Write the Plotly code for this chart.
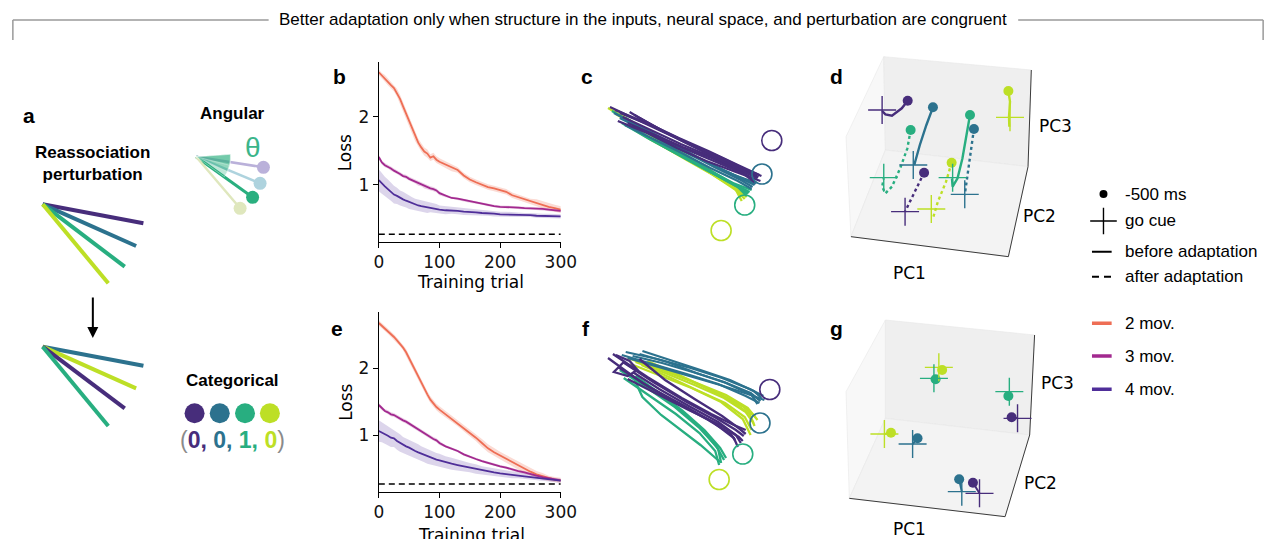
import plotly.graph_objects as go

W, H = 1287, 539


def px(x):
    return x / W


def py(y):
    return 1 - y / H


SANS = "Liberation Sans"
MPL = "DejaVu Sans"

PURPLE, TEAL, GREEN, YELLOW = "#472d7b", "#2c728e", "#28ae80", "#bddf26"
MOV2, MOV3, MOV4 = "#ee6e55", "#a2298f", "#4f2e99"

# ---------------- panels b / e : loss vs training trial ----------------
trials = [0, 5, 10, 15, 20, 25, 30, 35, 40, 45, 50, 55, 60, 65, 70, 75, 80, 85, 90, 95, 100,
          110, 120, 130, 140, 150, 160, 170, 180, 190, 200, 210, 220, 230, 240, 250, 260, 270, 280, 290, 300]

b_loss_2mov = [2.65, 2.60, 2.56, 2.51, 2.46, 2.42, 2.35, 2.26, 2.15, 2.04, 1.93, 1.82, 1.71, 1.62, 1.55, 1.49, 1.46, 1.40, 1.42, 1.37, 1.34,
               1.30, 1.25, 1.22, 1.14, 1.08, 1.04, 1.00, 0.97, 0.95, 0.93, 0.90, 0.85, 0.82, 0.79, 0.76, 0.74, 0.71, 0.68, 0.66, 0.64]
b_loss_3mov = [1.41, 1.33, 1.29, 1.27, 1.24, 1.21, 1.19, 1.16, 1.13, 1.12, 1.09, 1.07, 1.05, 1.02, 1.01, 0.98, 0.97, 0.95, 0.94, 0.92, 0.88,
               0.84, 0.81, 0.80, 0.78, 0.76, 0.74, 0.73, 0.71, 0.69, 0.68, 0.68, 0.67, 0.67, 0.66, 0.66, 0.65, 0.65, 0.64, 0.63, 0.62]
b_loss_4mov = [1.07, 1.02, 0.98, 0.94, 0.90, 0.86, 0.84, 0.81, 0.79, 0.77, 0.75, 0.73, 0.71, 0.70, 0.69, 0.68, 0.67, 0.67, 0.66, 0.65, 0.64,
               0.63, 0.63, 0.62, 0.61, 0.61, 0.60, 0.59, 0.59, 0.58, 0.57, 0.57, 0.57, 0.56, 0.56, 0.56, 0.55, 0.55, 0.55, 0.54, 0.54]
b_sd_2mov = [0.04, 0.04, 0.05, 0.05, 0.05, 0.05, 0.06, 0.06, 0.06, 0.07, 0.07, 0.07, 0.07, 0.06, 0.06, 0.06, 0.06, 0.05, 0.05, 0.05, 0.05,
             0.05, 0.05, 0.04, 0.04, 0.04, 0.04, 0.04, 0.04, 0.04, 0.04, 0.04, 0.04, 0.04, 0.04, 0.04, 0.05, 0.05, 0.05, 0.05, 0.05]
b_sd_3mov = [0.03, 0.03, 0.03, 0.03, 0.03, 0.03, 0.03, 0.03, 0.03, 0.03, 0.03, 0.03, 0.03, 0.03, 0.03, 0.03, 0.03, 0.03, 0.03, 0.03, 0.03,
             0.02, 0.02, 0.02, 0.02, 0.02, 0.02, 0.02, 0.02, 0.02, 0.02, 0.02, 0.02, 0.02, 0.02, 0.02, 0.02, 0.02, 0.02, 0.02, 0.02]
b_sd_4mov = [0.16, 0.15, 0.14, 0.14, 0.13, 0.13, 0.12, 0.11, 0.11, 0.10, 0.10, 0.09, 0.09, 0.09, 0.08, 0.08, 0.08, 0.07, 0.07, 0.07, 0.06,
             0.06, 0.05, 0.05, 0.05, 0.05, 0.04, 0.04, 0.04, 0.04, 0.04, 0.04, 0.03, 0.03, 0.03, 0.03, 0.03, 0.03, 0.03, 0.03, 0.03]

e_loss_2mov = [2.68, 2.64, 2.60, 2.56, 2.52, 2.47, 2.42, 2.37, 2.31, 2.24, 2.15, 2.05, 1.96, 1.86, 1.78, 1.70, 1.61, 1.53, 1.47, 1.42, 1.38,
               1.31, 1.25, 1.18, 1.11, 1.03, 0.96, 0.88, 0.80, 0.74, 0.69, 0.64, 0.59, 0.54, 0.49, 0.45, 0.41, 0.38, 0.35, 0.33, 0.32]
e_loss_3mov = [1.45, 1.40, 1.36, 1.34, 1.31, 1.30, 1.27, 1.25, 1.22, 1.20, 1.17, 1.14, 1.11, 1.09, 1.06, 1.03, 1.00, 0.97, 0.94, 0.92, 0.88,
               0.83, 0.80, 0.76, 0.71, 0.67, 0.64, 0.61, 0.58, 0.55, 0.53, 0.51, 0.48, 0.46, 0.44, 0.41, 0.39, 0.37, 0.35, 0.33, 0.32]
e_loss_4mov = [1.06, 1.04, 1.02, 0.99, 0.96, 0.95, 0.91, 0.88, 0.85, 0.83, 0.81, 0.78, 0.76, 0.74, 0.72, 0.70, 0.68, 0.66, 0.64, 0.63, 0.62,
               0.59, 0.57, 0.55, 0.53, 0.51, 0.49, 0.47, 0.455, 0.44, 0.425, 0.41, 0.40, 0.39, 0.38, 0.37, 0.36, 0.345, 0.335, 0.325, 0.315]
e_sd_2mov = [0.04, 0.04, 0.04, 0.04, 0.04, 0.04, 0.04, 0.04, 0.04, 0.05, 0.05, 0.05, 0.05, 0.05, 0.05, 0.05, 0.05, 0.05, 0.05, 0.05, 0.05,
             0.05, 0.05, 0.05, 0.05, 0.05, 0.05, 0.06, 0.06, 0.06, 0.06, 0.06, 0.06, 0.06, 0.06, 0.06, 0.05, 0.05, 0.04, 0.04, 0.04]
e_sd_3mov = [0.03, 0.03, 0.03, 0.03, 0.03, 0.03, 0.03, 0.03, 0.03, 0.03, 0.03, 0.03, 0.03, 0.03, 0.03, 0.03, 0.03, 0.03, 0.03, 0.03, 0.03,
             0.02, 0.02, 0.02, 0.02, 0.02, 0.02, 0.02, 0.02, 0.02, 0.02, 0.02, 0.02, 0.02, 0.02, 0.02, 0.02, 0.02, 0.02, 0.02, 0.02]
e_sd_4mov = [0.16, 0.15, 0.15, 0.14, 0.14, 0.13, 0.13, 0.13, 0.12, 0.12, 0.12, 0.12, 0.12, 0.12, 0.11, 0.11, 0.11, 0.10, 0.10, 0.10, 0.10,
             0.09, 0.09, 0.08, 0.08, 0.07, 0.07, 0.06, 0.06, 0.06, 0.05, 0.05, 0.05, 0.04, 0.04, 0.04, 0.04, 0.03, 0.03, 0.03, 0.03]

baseline_trials = [0, 300]
b_baseline = [0.28, 0.28]
e_baseline = [0.265, 0.265]

mov_labels = ["2 mov.", "3 mov.", "4 mov."]
mov_colors = [MOV2, MOV3, MOV4]
mov_bands = ["rgba(238,110,85,0.25)", "rgba(162,41,143,0.22)", "rgba(79,46,153,0.20)"]

# ---------------- panels c / f : hand trajectories ----------------
targets_x = [15.45, 14.45, 12.7, 10.3]
targets_y = [-2.55, -5.9, -9.0, -11.55]
target_colors = [PURPLE, TEAL, GREEN, YELLOW]

c_purple_x = [[-0.5, 3.0, 6.0, 9.0, 12.0, 14.2], [0.3, 3.2, 6.2, 9.1, 12.1, 14.0], [1.0, 3.5, 6.5, 9.5, 12.3, 13.8],
              [-0.2, 2.8, 5.8, 8.8, 11.8, 14.3], [0.8, 3.6, 6.4, 9.3, 12.2, 13.6], [1.5, 4.0, 7.0, 10.0, 12.8, 14.1],
              [-1.0, 2.5, 5.5, 8.6, 11.6, 14.0], [2.0, 4.6, 7.4, 10.2, 12.9, 13.9], [0.0, 3.3, 6.6, 9.6, 12.4, 14.4],
              [1.2, 3.9, 6.9, 9.8, 12.6, 13.7]]
c_purple_y = [[0.5, -0.9, -2.3, -3.6, -5.0, -6.0], [-0.2, -1.5, -2.9, -4.1, -5.4, -6.3], [0.3, -1.2, -2.6, -4.0, -5.3, -6.1],
              [-0.6, -1.8, -3.3, -4.6, -5.7, -6.6], [-0.8, -2.0, -3.2, -4.3, -5.6, -6.4], [0.0, -1.4, -2.9, -4.4, -5.6, -6.2],
              [0.8, -0.8, -2.2, -3.7, -5.1, -6.3], [-0.3, -1.7, -3.0, -4.2, -5.5, -5.9], [0.2, -1.1, -2.7, -4.0, -5.3, -6.1],
              [-1.1, -2.2, -3.5, -4.7, -5.9, -6.7]]
c_teal_x = [[0.0, 3.0, 6.0, 9.0, 12.0, 13.7], [1.0, 3.8, 6.8, 9.6, 12.3, 13.5], [-0.6, 2.6, 5.6, 8.6, 11.6, 13.9],
            [0.5, 3.4, 6.3, 9.2, 12.0, 13.4], [2.0, 4.4, 7.2, 10.0, 12.6, 13.8]]
c_teal_y = [[-0.3, -1.8, -3.3, -4.8, -6.2, -7.0], [-0.7, -2.2, -3.7, -5.2, -6.5, -7.2], [0.2, -1.4, -3.0, -4.6, -6.0, -6.8],
            [-1.0, -2.4, -3.8, -5.3, -6.6, -7.4], [-1.4, -2.6, -4.0, -5.3, -6.4, -6.9]]
c_green_x = [[0.2, 3.0, 6.0, 9.0, 11.8, 13.2], [1.2, 3.8, 6.6, 9.4, 12.0, 13.0], [-0.8, 2.5, 5.5, 8.5, 11.5, 13.4],
             [0.6, 3.3, 6.2, 9.1, 11.9, 12.9], [1.8, 4.2, 7.0, 9.8, 12.3, 13.1]]
c_green_y = [[-0.8, -2.4, -4.0, -5.6, -7.0, -7.7], [-1.2, -2.7, -4.3, -5.8, -7.2, -7.9], [0.4, -1.5, -3.4, -5.2, -6.8, -7.5],
             [-0.3, -2.0, -3.8, -5.5, -7.1, -8.1], [-1.6, -3.0, -4.5, -6.0, -7.3, -7.8]]
c_yellow_x = [[0.5, 3.2, 6.0, 8.8, 11.5, 12.7], [1.4, 4.0, 6.8, 9.5, 12.0, 12.9], [-0.4, 2.8, 5.7, 8.6, 11.3, 12.5],
              [0.9, 3.6, 6.4, 9.2, 11.8, 12.4], [-1.2, 2.2, 5.2, 8.2, 11.0, 12.6]]
c_yellow_y = [[-0.9, -2.5, -4.0, -5.5, -7.2, -8.4], [-1.3, -2.9, -4.5, -6.0, -7.5, -8.2], [0.1, -1.8, -3.6, -5.3, -7.0, -8.1],
              [-0.5, -2.3, -4.1, -5.8, -7.5, -8.6], [0.7, -1.2, -3.1, -4.9, -6.7, -8.0]]

f_teal_x = [[0.8, 4.0, 7.4, 10.6, 13.4, 14.8], [1.5, 4.5, 7.6, 10.8, 13.5, 14.5], [2.2, 5.0, 8.0, 11.0, 13.6, 14.2],
            [1.0, 4.2, 7.3, 10.4, 13.2, 14.9], [2.5, 5.4, 8.4, 11.4, 13.8, 14.6], [0.4, 3.6, 7.0, 10.2, 13.0, 14.4]]
f_teal_y = [[1.2, 0.5, -0.4, -1.4, -2.5, -3.2], [0.8, 0.1, -0.8, -1.8, -2.9, -3.7], [1.0, 0.2, -0.9, -1.9, -3.1, -4.0],
            [0.6, -0.3, -1.2, -2.1, -3.0, -3.6], [1.3, 0.4, -0.6, -1.6, -2.7, -3.4], [0.9, 0.0, -1.0, -2.0, -3.2, -3.9]]
f_yellow_x = [[1.0, 4.2, 7.4, 10.4, 12.8, 14.0], [1.8, 4.8, 7.8, 10.8, 13.0, 13.8], [2.4, 5.2, 8.0, 10.9, 12.9, 13.6],
              [1.3, 4.4, 7.5, 10.5, 12.7, 13.5], [2.0, 5.0, 8.0, 11.0, 13.2, 14.2], [3.0, 5.8, 8.6, 11.4, 13.4, 13.9]]
f_yellow_y = [[0.6, -0.5, -1.7, -3.0, -4.3, -5.3], [0.2, -0.9, -2.1, -3.4, -4.8, -5.9], [-0.1, -1.3, -2.6, -3.9, -5.3, -6.6],
              [0.0, -1.2, -2.4, -3.8, -5.5, -7.1], [0.4, -0.7, -1.9, -3.1, -4.4, -5.6], [0.3, -0.9, -2.2, -3.6, -5.0, -6.2]]
f_purple_x = [[-0.5, 3.0, 6.5, 9.5, 11.8, 13.0], [0.5, 3.6, 7.0, 10.0, 12.0, 12.8], [1.5, 4.2, 7.4, 10.2, 12.0, 12.5],
              [0.0, 3.2, 6.8, 9.8, 11.8, 12.2], [2.2, 4.8, 7.8, 10.6, 12.4, 13.0], [-1.0, 2.5, 6.0, 9.2, 11.5, 11.9],
              [1.0, 3.8, 7.2, 10.4, 12.3, 12.7], [-0.2, 1.2, 2.0, 1.0, -0.4, 0.6]]
f_purple_y = [[1.0, -1.3, -3.4, -5.0, -6.1, -6.6], [0.2, -1.8, -3.8, -5.4, -6.6, -7.2], [-0.8, -2.5, -4.3, -5.8, -7.1, -7.9],
              [-0.3, -2.3, -4.2, -5.9, -7.4, -8.3], [0.5, -1.6, -3.5, -5.2, -6.5, -7.0], [0.6, -1.9, -3.9, -5.6, -7.0, -7.6],
              [-1.5, -2.9, -4.6, -6.1, -7.3, -7.7], [0.9, 0.3, -0.6, -1.2, -0.8, 0.2]]
f_green_x = [[0.2, 3.0, 5.8, 8.2, 10.0, 10.8], [1.0, 3.6, 6.2, 8.5, 10.2, 10.5], [1.8, 4.2, 6.6, 8.8, 10.4, 11.0],
             [0.6, 3.2, 5.9, 8.3, 9.9, 10.3], [1.7, 2.5, 4.4, 6.4, 8.4, 10.4]]
f_green_y = [[-0.6, -2.4, -4.3, -6.3, -8.2, -9.6], [-0.9, -2.6, -4.5, -6.5, -8.5, -9.9], [-1.2, -2.9, -4.7, -6.6, -8.4, -9.4],
             [-1.4, -3.2, -5.0, -6.9, -8.7, -10.1], [-1.6, -3.3, -5.1, -6.6, -8.1, -9.8]]

# ---------------- panels d / g : 3-D PC views (projected view coordinates) ----------------
d_pane_left_x, d_pane_left_y = [75, 190, 195, 90], [245, 5, 285, 545]
d_pane_back_x, d_pane_back_y = [190, 640, 630, 195], [5, 45, 335, 285]
d_pane_floor_x, d_pane_floor_y = [195, 630, 570, 90], [285, 335, 605, 545]
d_edge_x, d_edge_y = [90, 570, 630, 640], [545, 605, 335, 45]

d_traj_x = [[263, 245, 215, 195, 185], [340, 320, 300, 283], [272, 262, 240, 215, 195, 185, 190],
            [313, 290, 265, 255], [453, 445, 430, 415, 400, 398], [465, 455, 445, 437],
            [397, 380, 355, 340], [570, 575, 572, 573]]
d_traj_y = [[137, 160, 182, 178, 168], [157, 210, 270, 330], [225, 280, 340, 395, 415, 395, 370],
            [353, 400, 450, 470], [180, 230, 310, 370, 395, 370], [222, 290, 360, 420],
            [323, 380, 440, 490], [108, 140, 185, 215]]
d_traj_color = [PURPLE, TEAL, GREEN, PURPLE, GREEN, TEAL, YELLOW, YELLOW]
d_traj_dash = ["solid", "solid", "dot", "dot", "solid", "dot", "dot", "solid"]
d_cross_x = [185, 280, 190, 255, 400, 437, 335, 575]
d_cross_y = [165, 330, 368, 470, 368, 418, 462, 187]

g_pane_left_x, g_pane_left_y = [75, 195, 195, 85], [245, 30, 325, 565]
g_pane_back_x, g_pane_back_y = [195, 650, 635, 195], [30, 75, 375, 325]
g_pane_floor_x, g_pane_floor_y = [195, 635, 560, 85], [325, 375, 620, 565]
g_edge_x, g_edge_y = [85, 560, 635, 650], [565, 620, 375, 75]

g_dot_x = [368, 348, 570, 580, 212, 293, 420, 462]
g_dot_y = [180, 208, 258, 322, 368, 385, 508, 518]
g_cross_x = [358, 343, 573, 598, 192, 278, 428, 482]
g_cross_y = [172, 205, 245, 325, 372, 402, 545, 550]
g_color = [YELLOW, GREEN, GREEN, PURPLE, YELLOW, TEAL, TEAL, PURPLE]

# ---------------- panel a : schematic ----------------
reassoc_origin_x = 38.3
reassoc_origin_y_top, reassoc_origin_y_bottom = 204.3, 346.7
reassoc_end_x = [140.7, 133.3, 121.7, 105.0]
reassoc_end_y_top = [223.3, 246.0, 266.7, 283.3]
reassoc_end_y_bottom = [365.7, 388.3, 408.3, 426.0]
reassoc_colors_top = [PURPLE, TEAL, GREEN, YELLOW]
reassoc_colors_bottom = [TEAL, YELLOW, PURPLE, GREEN]

ang_origin = (194.3, 156.7)
ang_end_x = [262.7, 259.3, 251.7, 239.0]
ang_end_y = [167.3, 183.3, 197.3, 208.3]
ang_colors = ["#bab1da", "#aed3de", "#2aaf7f", "#dfe7bd"]
ang_widths = [2.5, 2.5, 3, 2.5]

cat_x = [192.7, 218.3, 244.0, 269.3]
cat_y = [413.3, 413.3, 413.3, 413.3]
cat_colors = [PURPLE, TEAL, GREEN, YELLOW]
cat_code = ["0", "0", "1", "0"]

# ---------------- key (legend) ----------------
key_labels = ["-500 ms", "go cue", "before adaptation", "after adaptation"] + mov_labels
key_rows = [194, 221, 251.7, 276.7, 323.3, 356, 389.3]

fig = go.Figure()


def joined(xs, ys):
    X, Y = [], []
    for a, b in zip(xs, ys):
        X += list(a) + [None]
        Y += list(b) + [None]
    return X, Y


# ---- b / e
for ax, losses, sds, base in [("", [b_loss_2mov, b_loss_3mov, b_loss_4mov], [b_sd_2mov, b_sd_3mov, b_sd_4mov], b_baseline),
                              ("2", [e_loss_2mov, e_loss_3mov, e_loss_4mov], [e_sd_2mov, e_sd_3mov, e_sd_4mov], e_baseline)]:
    xa, ya = "x" + ax, "y" + ax
    for loss, sd, band in zip(losses, sds, mov_bands):
        up = [m + s for m, s in zip(loss, sd)]
        lo = [m - s for m, s in zip(loss, sd)]
        fig.add_trace(go.Scatter(x=trials + trials[::-1], y=up + lo[::-1], fill="toself", fillcolor=band,
                                 line=dict(width=0), mode="lines", showlegend=False, hoverinfo="skip",
                                 xaxis=xa, yaxis=ya))
    for loss, col, lab in zip(losses, mov_colors, mov_labels):
        fig.add_trace(go.Scatter(x=trials, y=loss, mode="lines", name=lab, line=dict(color=col, width=1.8),
                                 showlegend=False, xaxis=xa, yaxis=ya))
    fig.add_trace(go.Scatter(x=baseline_trials, y=base, mode="lines",
                             line=dict(color="black", width=1.6, dash="6px,4px"),
                             showlegend=False, xaxis=xa, yaxis=ya))

# ---- c / f
for ax, groups in [("3", [(c_yellow_x, c_yellow_y, YELLOW), (c_green_x, c_green_y, GREEN),
                          (c_teal_x, c_teal_y, TEAL), (c_purple_x, c_purple_y, PURPLE)]),
                   ("4", [(f_green_x, f_green_y, GREEN), (f_yellow_x, f_yellow_y, YELLOW),
                          (f_teal_x, f_teal_y, TEAL), (f_purple_x, f_purple_y, PURPLE)])]:
    for xs, ys, col in groups:
        X, Y = joined(xs, ys)
        fig.add_trace(go.Scatter(x=X, y=Y, mode="lines", line=dict(color=col, width=2.3),
                                 showlegend=False, xaxis="x" + ax, yaxis="y" + ax))
    fig.add_trace(go.Scatter(x=targets_x, y=targets_y, mode="markers",
                             marker=dict(symbol="circle-open", size=20, color=target_colors, line=dict(width=1.6)),
                             showlegend=False, xaxis="x" + ax, yaxis="y" + ax))

# ---- d / g panes
for ax, panes, edge in [("5", [(d_pane_left_x, d_pane_left_y, "#f8f8f8"), (d_pane_back_x, d_pane_back_y, "#efefef"),
                               (d_pane_floor_x, d_pane_floor_y, "#f3f3f3")], (d_edge_x, d_edge_y)),
                        ("6", [(g_pane_left_x, g_pane_left_y, "#f8f8f8"), (g_pane_back_x, g_pane_back_y, "#efefef"),
                               (g_pane_floor_x, g_pane_floor_y, "#f3f3f3")], (g_edge_x, g_edge_y))]:
    for xs, ys, col in panes:
        fig.add_trace(go.Scatter(x=xs + xs[:1], y=ys + ys[:1], fill="toself", fillcolor=col, mode="lines",
                                 line=dict(width=0.6, color="#e8e8e8"), showlegend=False, hoverinfo="skip",
                                 xaxis="x" + ax, yaxis="y" + ax))
    fig.add_trace(go.Scatter(x=edge[0], y=edge[1], mode="lines", line=dict(color="#3a3a3a", width=1),
                             showlegend=False, hoverinfo="skip", xaxis="x" + ax, yaxis="y" + ax))

for xs, ys, col, dash in zip(d_traj_x, d_traj_y, d_traj_color, d_traj_dash):
    fig.add_trace(go.Scatter(x=xs, y=ys, mode="lines", line=dict(color=col, width=2.4, dash=dash),
                             showlegend=False, xaxis="x5", yaxis="y5"))
fig.add_trace(go.Scatter(x=[t[0] for t in d_traj_x], y=[t[0] for t in d_traj_y], mode="markers",
                         marker=dict(size=10, color=d_traj_color), showlegend=False, xaxis="x5", yaxis="y5"))
fig.add_trace(go.Scatter(x=d_cross_x, y=d_cross_y, mode="markers",
                         marker=dict(symbol="cross-thin", size=20, line=dict(width=1.4, color=d_traj_color)),
                         showlegend=False, xaxis="x5", yaxis="y5"))

for i, col in enumerate(g_color):
    fig.add_trace(go.Scatter(x=[g_dot_x[i], g_cross_x[i]], y=[g_dot_y[i], g_cross_y[i]], mode="lines",
                             line=dict(color=col, width=2), showlegend=False, xaxis="x6", yaxis="y6"))
fig.add_trace(go.Scatter(x=g_dot_x, y=g_dot_y, mode="markers", marker=dict(size=10, color=g_color),
                         showlegend=False, xaxis="x6", yaxis="y6"))
fig.add_trace(go.Scatter(x=g_cross_x, y=g_cross_y, mode="markers",
                         marker=dict(symbol="cross-thin", size=20, line=dict(width=1.4, color=g_color)),
                         showlegend=False, xaxis="x6", yaxis="y6"))

# ---- a : schematic
for ex, ey, col in zip(reassoc_end_x, reassoc_end_y_top, reassoc_colors_top):
    fig.add_trace(go.Scatter(x=[reassoc_origin_x, ex], y=[reassoc_origin_y_top, ey], mode="lines",
                             line=dict(color=col, width=4), showlegend=False, xaxis="x7", yaxis="y7"))
for ex, ey, col in zip(reassoc_end_x, reassoc_end_y_bottom, reassoc_colors_bottom):
    fig.add_trace(go.Scatter(x=[reassoc_origin_x, ex], y=[reassoc_origin_y_bottom, ey], mode="lines",
                             line=dict(color=col, width=4), showlegend=False, xaxis="x7", yaxis="y7"))
for ex, ey, col, wd in zip(ang_end_x, ang_end_y, ang_colors, ang_widths):
    fig.add_trace(go.Scatter(x=[ang_origin[0], ex], y=[ang_origin[1], ey], mode="lines",
                             line=dict(color=col, width=wd), showlegend=False, xaxis="x7", yaxis="y7"))
fig.add_trace(go.Scatter(x=ang_end_x, y=ang_end_y, mode="markers", marker=dict(size=13, color=ang_colors),
                         showlegend=False, xaxis="x7", yaxis="y7"))
fig.add_trace(go.Scatter(x=cat_x, y=cat_y, mode="markers", marker=dict(size=20, color=cat_colors),
                         showlegend=False, xaxis="x7", yaxis="y7"))

# ---- key symbols (drawn on their own small axis so nothing spills past the figure's edge)
KX0, KX1, KXM = 1105, 1125, 1116.7
fig.add_trace(go.Scatter(x=[KXM], y=[key_rows[0]], mode="markers", marker=dict(size=8, color="black"),
                         showlegend=False, xaxis="x8", yaxis="y8"))
fig.add_trace(go.Scatter(x=[KXM], y=[key_rows[1]], mode="markers",
                         marker=dict(symbol="cross-thin", size=19, line=dict(width=1.4, color="black")),
                         showlegend=False, xaxis="x8", yaxis="y8"))
fig.add_trace(go.Scatter(x=[KX0, KX1], y=[key_rows[2]] * 2, mode="lines", line=dict(color="black", width=2),
                         showlegend=False, xaxis="x8", yaxis="y8"))
fig.add_trace(go.Scatter(x=[KX0, KX1], y=[key_rows[3]] * 2, mode="lines",
                         line=dict(color="black", width=2, dash="7px,5px"),
                         showlegend=False, xaxis="x8", yaxis="y8"))
for row, col in zip(key_rows[4:], mov_colors):
    fig.add_trace(go.Scatter(x=[KX0, KX1], y=[row, row], mode="lines", line=dict(color=col, width=3.5),
                             showlegend=False, xaxis="x8", yaxis="y8"))

# ---- axes
hidden = dict(visible=False, showgrid=False, zeroline=False)
loss_x = dict(range=[0, 300], tickvals=[0, 100, 200, 300], showline=True, linecolor="black", linewidth=1,
              ticks="outside", ticklen=5, tickwidth=1, tickcolor="black", showgrid=False, zeroline=False,
              tickfont=dict(family=MPL, size=17, color="#111"))
loss_y = dict(tickvals=[1, 2], showline=True, linecolor="black", linewidth=1, ticks="outside", ticklen=5,
              tickwidth=1, tickcolor="black", showgrid=False, zeroline=False,
              tickfont=dict(family=MPL, size=17, color="#111"))

fig.update_layout(
    width=W, height=H, margin=dict(l=0, r=0, t=0, b=0), autosize=False, showlegend=False,
    paper_bgcolor="white", plot_bgcolor="rgba(0,0,0,0)",
    xaxis=dict(domain=[px(380), px(565)], anchor="y", **loss_x),
    yaxis=dict(domain=[py(241.7), py(62)], anchor="x", range=[0.17, 2.8], **loss_y),
    xaxis2=dict(domain=[px(380), px(565)], anchor="y2", **loss_x),
    yaxis2=dict(domain=[py(491.7), py(312.3)], anchor="x2", range=[0.15, 2.84], **loss_y),
    xaxis3=dict(domain=[px(600), px(800)], anchor="y3", range=[-2.5, 17.5], **hidden),
    yaxis3=dict(domain=[py(250), py(90)], anchor="x3", range=[-13.5, 2.5], **hidden),
    xaxis4=dict(domain=[px(600), px(800)], anchor="y4", range=[-2.3, 17.7], **hidden),
    yaxis4=dict(domain=[py(500), py(340)], anchor="x4", range=[-13.6, 2.4], **hidden),
    xaxis5=dict(domain=[px(830), px(1060)], anchor="y5", range=[0, 690], **hidden),
    yaxis5=dict(domain=[py(285), py(55)], anchor="x5", range=[690, 0], **hidden),
    xaxis6=dict(domain=[px(830), px(1060)], anchor="y6", range=[0, 690], **hidden),
    yaxis6=dict(domain=[py(539), py(310)], anchor="x6", range=[687, 0], **hidden),
    xaxis7=dict(domain=[0, px(320)], anchor="y7", range=[0, 320], **hidden),
    yaxis7=dict(domain=[0, py(55)], anchor="x7", range=[539, 55], **hidden),
    xaxis8=dict(domain=[px(1095), px(1135)], anchor="y8", range=[1095, 1135], **hidden),
    yaxis8=dict(domain=[py(410), py(175)], anchor="x8", range=[410, 175], **hidden),
)

# ---- shapes: title bracket, angular wedge
gray = "#9a9a9a"
shapes = [
    dict(type="line", xref="paper", yref="paper", x0=px(8), x1=px(268), y0=py(20), y1=py(20), line=dict(color=gray, width=1.5)),
    dict(type="line", xref="paper", yref="paper", x0=px(8), x1=px(8), y0=py(20), y1=py(40), line=dict(color=gray, width=1.5)),
    dict(type="line", xref="paper", yref="paper", x0=px(1030), x1=px(1279), y0=py(20), y1=py(20), line=dict(color=gray, width=1.5)),
    dict(type="line", xref="paper", yref="paper", x0=px(1279), x1=px(1279), y0=py(20), y1=py(40), line=dict(color=gray, width=1.5)),
]
ox, oy = ang_origin
for path in ["M %f,%f L 229.2,154.3 Q 230.1,166.6 223.0,176.8 Z" % (ox, oy),
             "M %f,%f L 229.2,154.3 Q 229.9,163.3 226.0,171.5 Z" % (ox, oy),
             "M %f,%f L 229.2,154.3 Q 229.6,159.8 228.3,165.2 Z" % (ox, oy)]:
    shapes.append(dict(type="path", xref="x7", yref="y7", path=path, fillcolor="rgba(42,175,127,0.3)",
                       line=dict(width=0.6, color="rgba(255,255,255,0.6)"), layer="above"))
fig.update_layout(shapes=shapes)

# ---- annotations
ann = []


def text(x, y, s, size=17, family=SANS, color="black", bold=False, **kw):
    ann.append(dict(x=px(x), y=py(y), xref="paper", yref="paper", text=("<b>%s</b>" % s) if bold else s,
                    showarrow=False, font=dict(family=family, size=size, color=color),
                    xanchor=kw.pop("xanchor", "center"), yanchor=kw.pop("yanchor", "middle"), **kw))


text(649, 20, "Better adaptation only when structure in the inputs, neural space, and perturbation are congruent", size=17)
for lab, x, y in [("a", 24, 116), ("b", 340, 76), ("c", 592, 76), ("d", 845, 76),
                  ("e", 338, 328), ("f", 591, 328), ("g", 845, 328)]:
    text(x, y, lab, size=21, bold=True)
text(89.3, 163, "Reassociation<br>perturbation", bold=True)
text(231, 113.3, "Angular", bold=True)
text(231, 380.7, "Categorical", bold=True)
text(252, 147, "θ", size=28, color="#3bb58a")
parts = ["<span style='color:%s'>%s%s</span>" % (c, d, "," if i < 3 else "") for i, (c, d) in enumerate(zip(cat_colors, cat_code))]
text(231, 440, "<span style='color:#8a8a8a'>(</span><b>" + " ".join(parts) + "</b><span style='color:#8a8a8a'>)</span>", size=23)
for yc in [153, 402.5]:
    text(346, yc, "Loss", size=17, family=MPL, textangle=-90)
text(473, 281.7, "Training trial", size=17, family=MPL)
text(474, 535, "Training trial", size=17, family=MPL)
for lab, x, y in [("PC1", 920, 273), ("PC2", 1052, 216), ("PC3", 1068, 126),
                  ("PC1", 920, 529), ("PC2", 1053, 483), ("PC3", 1070, 383)]:
    text(x, y, lab, size=17, family=MPL)
for lab, row in zip(key_labels, key_rows):
    text(1137, row, lab, size=17, xanchor="left")
ann.append(dict(x=89.3, y=338, ax=89.3, ay=296, xref="x7", yref="y7", axref="x7", ayref="y7", text="",
                showarrow=True, arrowhead=2, arrowsize=1.1, arrowwidth=2, arrowcolor="black"))
fig.update_layout(annotations=ann)

# the page's default 8px body margin would push the 1287x539 figure past the window
fig.write_html("out.html", config={"displayModeBar": False},
               post_script="document.body.style.margin='0px';")
